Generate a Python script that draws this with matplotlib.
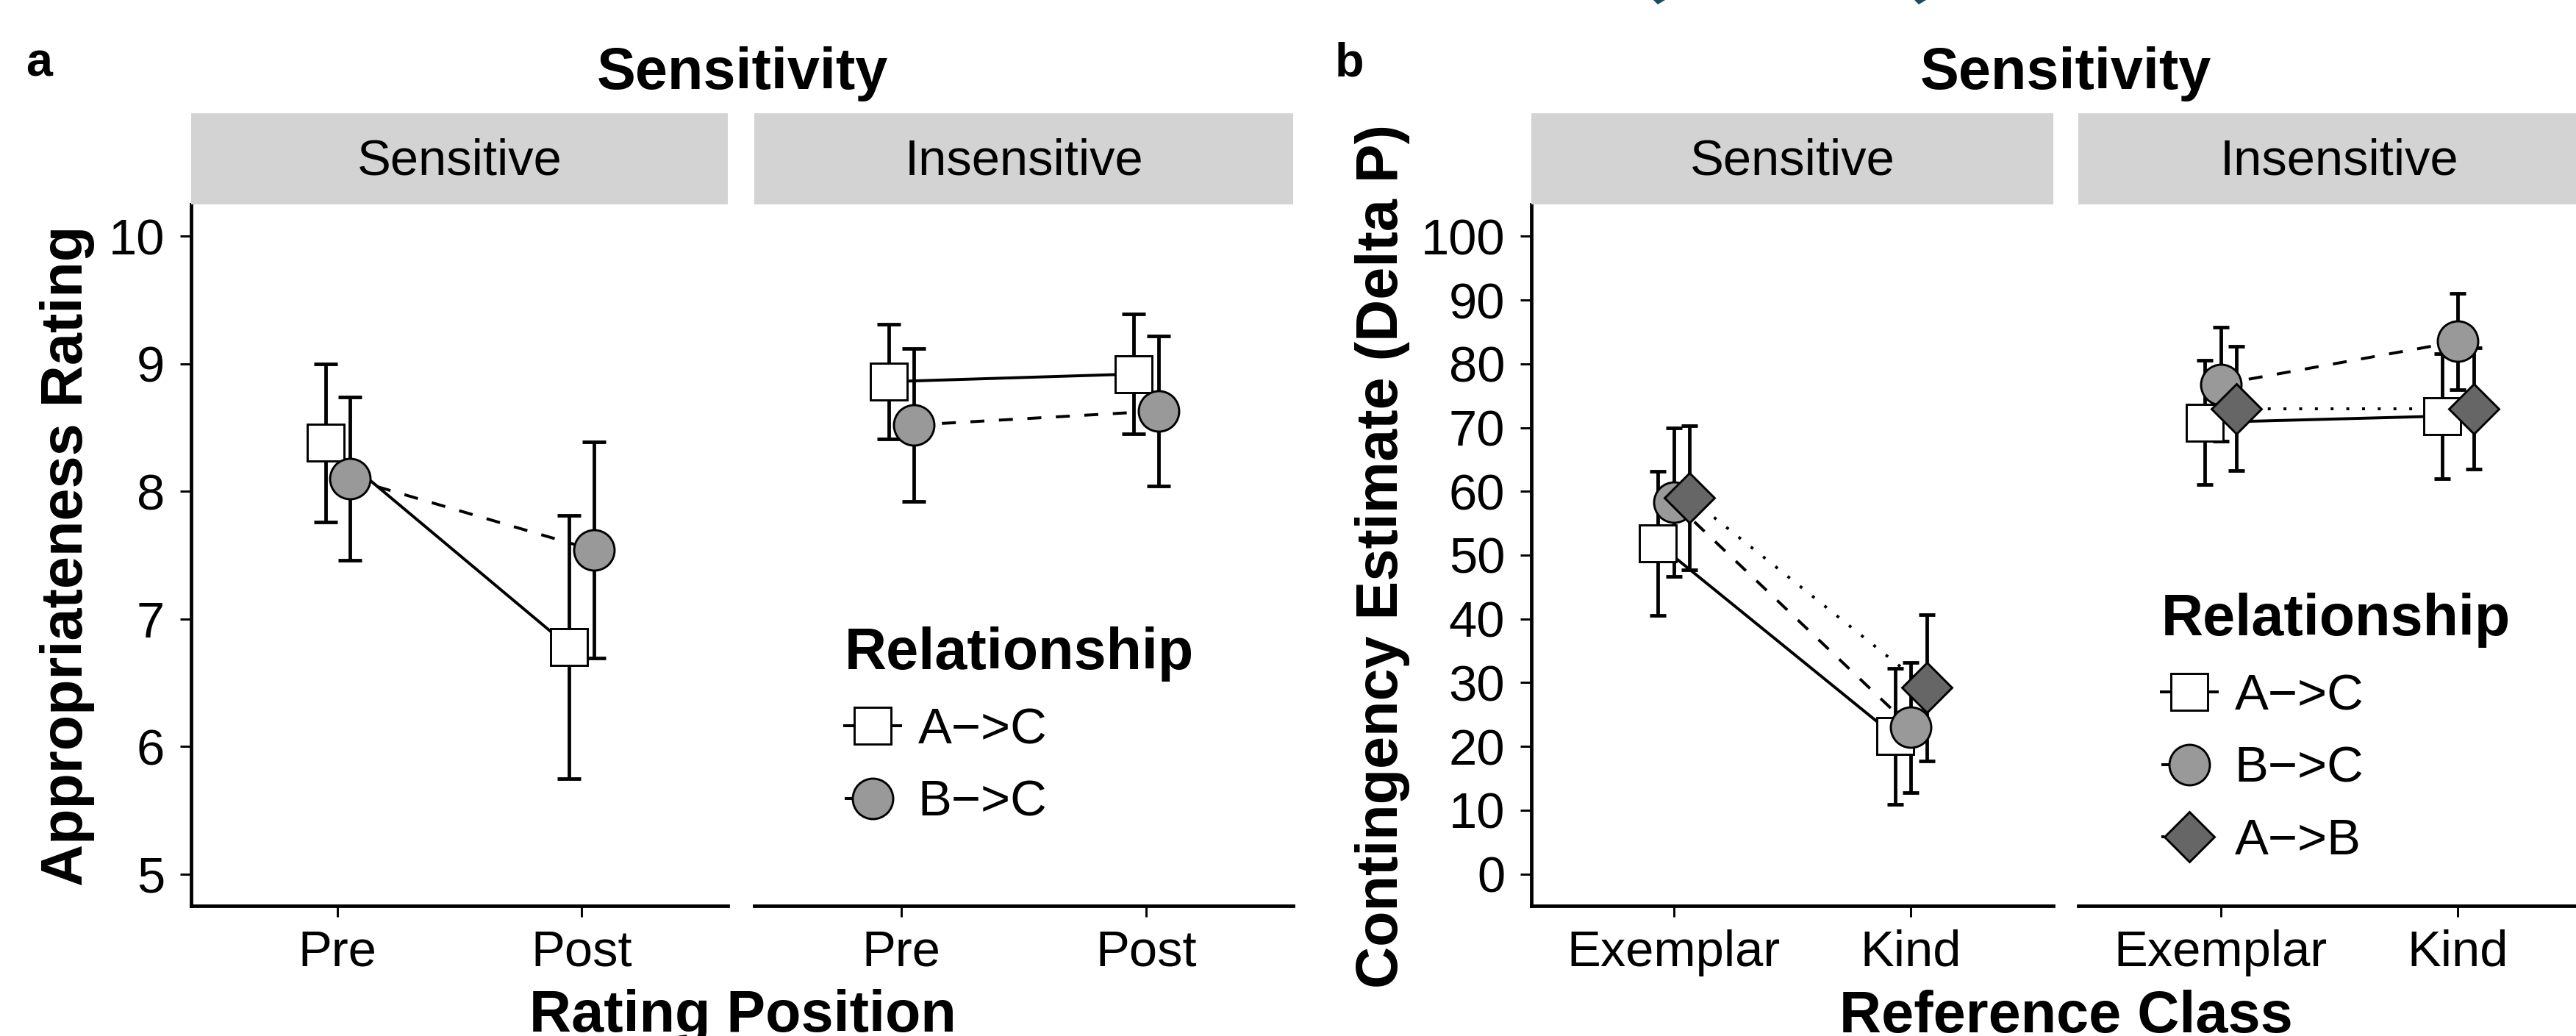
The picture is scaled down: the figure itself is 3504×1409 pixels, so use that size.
import matplotlib
matplotlib.use("Agg")
import matplotlib.pyplot as plt
from matplotlib.lines import Line2D
from matplotlib.patches import Polygon
from matplotlib.font_manager import FontProperties

plt.rcParams['font.family'] = ['Liberation Sans', 'DejaVu Sans']

# ---- data ----
facet_names = ["Sensitive", "Insensitive"]

# panel a: appropriateness rating, mean and CI half-width per rating position
rating_positions = ["Pre", "Post"]
a_groups = ["A−>C", "B−>C"]
a_sens_AC = [8.38, 6.78]
a_sens_AC_ci = [0.62, 1.03]
a_sens_BC = [8.10, 7.54]
a_sens_BC_ci = [0.64, 0.85]
a_insens_AC = [8.86, 8.92]
a_insens_AC_ci = [0.45, 0.47]
a_insens_BC = [8.52, 8.63]
a_insens_BC_ci = [0.60, 0.59]

# panel b: contingency estimate (delta P) per reference class
reference_classes = ["Exemplar", "Kind"]
b_groups = ["A−>C", "B−>C", "A−>B"]
b_sens_AC = [51.8, 21.6]
b_sens_AC_ci = [11.3, 10.7]
b_sens_BC = [58.3, 23.0]
b_sens_BC_ci = [11.6, 10.2]
b_sens_AB = [59.0, 29.2]
b_sens_AB_ci = [11.3, 11.5]
b_insens_AC = [70.8, 71.8]
b_insens_AC_ci = [9.7, 9.8]
b_insens_BC = [76.8, 83.5]
b_insens_BC_ci = [8.9, 7.6]
b_insens_AB = [73.0, 73.0]
b_insens_AB_ci = [9.7, 9.5]

# ---- styles ----
styles = {
    "A−>C": dict(marker='s', ms=11.8, mfc='white', ls='-', dashes=None),
    "B−>C": dict(marker='o', ms=13.2, mfc='#999999', ls='--', dashes=(4.8, 5.0)),
    "A−>B": dict(marker='D', ms=11.5, mfc='#666666', ls=':', dashes=(1.0, 4.4)),
}
TXT = 16.5
BOLD = 19

W, H = 3504, 1409
fig = plt.figure(figsize=(W / 300, H / 300), dpi=300)


def box(x0, x1, y0, y1):
    # pixel box (y measured from top) -> figure fraction rect
    return [x0 / W, 1 - y1 / H, (x1 - x0) / W, (y1 - y0) / H]


def line_kw(name):
    st = styles[name]
    kw = dict(color='black', lw=0.95)
    if st['dashes'] is not None:
        kw['dashes'] = st['dashes']
    return kw


def draw_facet(ax, groups, means, cis, capsize):
    n = len(groups)
    offsets = [(-0.1 + 0.2 * (i + 0.5) / n) for i in range(n)]
    for i, (g, m, c) in enumerate(zip(groups, means, cis)):
        xs = [1 + offsets[i], 2 + offsets[i]]
        ax.errorbar(xs, m, yerr=c, fmt='none', ecolor='black', elinewidth=1.15,
                    capsize=capsize, capthick=1.15, zorder=2)
        ax.plot(xs, m, zorder=3, **line_kw(g))
        st = styles[g]
        ax.plot(xs, m, ls='none', marker=st['marker'], ms=st['ms'], mfc=st['mfc'],
                mec='black', mew=0.7, zorder=4 + i * 0.1)


def style_axes(ax, ylim, yticks, xlabels, show_y):
    ax.set_xlim(0.4, 2.6)
    ax.set_ylim(*ylim)
    ax.set_xticks([1, 2])
    ax.set_xticklabels(xlabels)
    ax.spines['top'].set_visible(False)
    ax.spines['right'].set_visible(False)
    ax.spines['bottom'].set_linewidth(1.15)
    ax.spines['left'].set_linewidth(1.15)
    ax.tick_params(length=3.6, width=0.7, labelsize=TXT, colors='black')
    ax.tick_params(axis='x', pad=4.0)
    ax.tick_params(axis='y', pad=5)
    if show_y:
        ax.set_yticks(yticks)
    else:
        ax.spines['left'].set_visible(False)
        ax.tick_params(axis='y', left=False, labelleft=False)


def strip(x0, x1, label):
    s = fig.add_axes(box(x0, x1, 154, 278))
    s.set_facecolor('#d3d3d3')
    for sp in s.spines.values():
        sp.set_visible(False)
    s.set_xticks([])
    s.set_yticks([])
    s.text(0.5, 0.47, label, ha='center', va='center', fontsize=TXT, transform=s.transAxes)


# ---- panel a ----
ax_a1 = fig.add_axes(box(260, 990, 278, 1232))
ax_a2 = fig.add_axes(box(1026, 1759, 278, 1232))
draw_facet(ax_a1, a_groups, [a_sens_AC, a_sens_BC], [a_sens_AC_ci, a_sens_BC_ci], 3.8)
draw_facet(ax_a2, a_groups, [a_insens_AC, a_insens_BC], [a_insens_AC_ci, a_insens_BC_ci], 3.8)
style_axes(ax_a1, (4.75, 10.25), [5, 6, 7, 8, 9, 10], rating_positions, True)
style_axes(ax_a2, (4.75, 10.25), [5, 6, 7, 8, 9, 10], rating_positions, False)
strip(260, 990, facet_names[0])
strip(1026, 1759, facet_names[1])

# ---- panel b ----
ax_b1 = fig.add_axes(box(2083, 2793, 278, 1232))
ax_b2 = fig.add_axes(box(2827, 3537, 278, 1232))
draw_facet(ax_b1, b_groups, [b_sens_AC, b_sens_BC, b_sens_AB],
           [b_sens_AC_ci, b_sens_BC_ci, b_sens_AB_ci], 2.7)
draw_facet(ax_b2, b_groups, [b_insens_AC, b_insens_BC, b_insens_AB],
           [b_insens_AC_ci, b_insens_BC_ci, b_insens_AB_ci], 2.7)
style_axes(ax_b1, (-5, 105), list(range(0, 101, 10)), reference_classes, True)
style_axes(ax_b2, (-5, 105), list(range(0, 101, 10)), reference_classes, False)
strip(2083, 2793, facet_names[0])
strip(2827, 3537, facet_names[1])


# ---- legends ----
def legend_handles(groups):
    hs = []
    for g in groups:
        st = styles[g]
        hs.append(Line2D([], [], marker=st['marker'], ms=st['ms'], mfc=st['mfc'],
                         mec='black', mew=0.7, **line_kw(g)))
    return hs


title_fp = FontProperties(family=['Liberation Sans'], weight='bold', size=BOLD)
for ax, groups, x0, y0 in [(ax_a2, a_groups, 1149, 852), (ax_b2, b_groups, 2940, 806)]:
    ax.legend(legend_handles(groups), groups, title='Relationship', title_fontproperties=title_fp,
              loc='upper left', bbox_to_anchor=(x0 / W, 1 - y0 / H), bbox_transform=fig.transFigure,
              frameon=False, borderpad=0, borderaxespad=0, fontsize=TXT, handlelength=1.1,
              handletextpad=0.35, labelspacing=0.5, numpoints=1, alignment='left')

# ---- titles and labels ----
bold = dict(fontweight='bold', fontsize=BOLD)
fig.text(1010 / W, 1 - 121 / H, "Sensitivity", ha='center', va='baseline', **bold)
fig.text(2810 / W, 1 - 121 / H, "Sensitivity", ha='center', va='baseline', **bold)
fig.text(35 / W, 1 - 103 / H, "a", ha='left', va='baseline', fontweight='bold', fontsize=15.5)
fig.text(1816 / W, 1 - 103 / H, "b", ha='left', va='baseline', fontweight='bold', fontsize=15.5)
fig.text(1010 / W, 1 - 1403 / H, "Rating Position", ha='center', va='baseline', **bold)
fig.text(2810 / W, 1 - 1404 / H, "Reference Class", ha='center', va='baseline', **bold)
fig.text(92 / W, 1 - 756 / H, "Appropriateness Rating", rotation=90, ha='center', va='center', **bold)
fig.text(1881 / W, 1 - 756 / H, "Contingency Estimate (Delta P)", rotation=90, ha='center', va='center', **bold)

# small cropped marks at the top edge
for cx in (2257, 2612):
    fig.patches.append(Polygon([(cx - 8, H), (cx + 8, H), (cx - 2, H - 6)], closed=True,
                               transform=matplotlib.transforms.Affine2D().scale(1 / W, 1 / H) + fig.transFigure,
                               facecolor='#1d4b5c', edgecolor='none'))

fig.savefig("out.png", dpi=300)
